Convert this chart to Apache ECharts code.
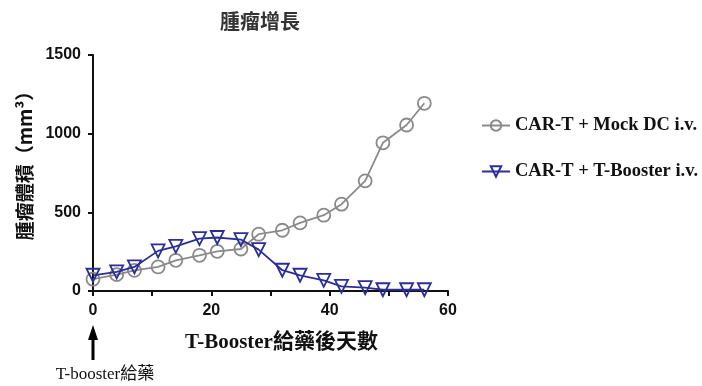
<!DOCTYPE html>
<html>
<head>
<meta charset="utf-8">
<script src="https://cdn.jsdelivr.net/npm/echarts@6/dist/echarts.min.js"></script>
<style>html,body{margin:0;padding:0;background:#fff}#c{width:702px;height:386px}</style>
</head>
<body>
<div id="c"></div>
<script>
var days = [0, 4, 7, 11, 14, 18, 21, 25, 28, 32, 35, 39, 42, 46, 49, 53, 56];
var mockDC = [75, 104, 131, 153, 195, 227, 252, 267, 361, 386, 433, 482, 552, 700, 942, 1055, 1193];
var tBooster = [100, 121, 153, 255, 284, 333, 340, 327, 263, 132, 100, 68, 30, 21, 8, 8, 8];
var yTicks = [0, 500, 1000, 1500];
var xLabels = [0, 20, 40, 60];
var seriesNames = ['CAR-T + Mock DC i.v.', 'CAR-T + T-Booster i.v.'];

function pairs(xs, ys) { return xs.map(function (x, i) { return [x, ys[i]]; }); }

var chart = echarts.init(document.getElementById('c'));
var gray = '#8a8a8a', blue = '#2b2f95';
var option = {
  animation: false,
  title: {
    text: '腫瘤增長', left: 255, top: 6, textAlign: 'center',
    textStyle: { fontFamily: 'Noto Sans CJK TC', fontSize: 20, fontWeight: 'bold', color: '#333' }
  },
  legend: {
    orient: 'vertical', left: 476, top: 111, itemGap: 27, itemWidth: 28, itemHeight: 13,
    textStyle: { fontFamily: 'Liberation Serif', fontWeight: 'bold', fontSize: 18.5, color: '#111' },
    data: seriesNames
  },
  grid: { left: 93, right: 254, top: 55, bottom: 95 },
  xAxis: {
    type: 'value', min: 0, max: 60, interval: 10,
    name: 'T-Booster給藥後天數', nameLocation: 'middle', nameGap: 41,
    nameTextStyle: { fontFamily: 'Liberation Serif, Noto Sans CJK TC', fontWeight: 'bold', fontSize: 21, color: '#111', padding: [0, 0, 0, 22] },
    axisLine: { lineStyle: { color: '#111', width: 2 } },
    axisTick: { length: 5, lineStyle: { color: '#111', width: 2 } },
    splitLine: { show: false },
    axisLabel: {
      fontFamily: 'Liberation Sans', fontWeight: 'bold', fontSize: 16, color: '#111', margin: 12,
      formatter: function (v) { return xLabels.indexOf(v) >= 0 ? String(v) : ''; }
    }
  },
  yAxis: {
    type: 'value', min: yTicks[0], max: yTicks[yTicks.length - 1], interval: 500,
    name: '腫瘤體積（mm³）', nameLocation: 'middle', nameGap: 58, nameRotate: 90,
    nameTextStyle: { fontFamily: 'Noto Sans CJK TC', fontWeight: 'bold', fontSize: 19, color: '#111', padding: [0, 0, 0, 24] },
    axisLine: { show: true, lineStyle: { color: '#111', width: 2 } },
    axisTick: { show: true, length: 5, lineStyle: { color: '#111', width: 2 } },
    splitLine: { show: false },
    axisLabel: { fontFamily: 'Liberation Sans', fontWeight: 'bold', fontSize: 16, color: '#111', margin: 12,
      formatter: function (v) { return String(v); } }
  },
  series: [
    {
      name: seriesNames[0], type: 'line', data: pairs(days, mockDC),
      symbol: 'circle', symbolSize: 13, showAllSymbol: true,
      lineStyle: { color: gray, width: 1.8 },
      itemStyle: { color: 'rgba(255,255,255,0)', borderColor: gray, borderWidth: 1.8 },
      z: 2
    },
    {
      name: seriesNames[1], type: 'line', data: pairs(days, tBooster),
      symbol: 'triangle', symbolRotate: 180, symbolSize: 13, showAllSymbol: true,
      lineStyle: { color: blue, width: 1.8 },
      itemStyle: { color: 'rgba(255,255,255,0)', borderColor: blue, borderWidth: 1.8 },
      z: 3
    }
  ]
};
chart.setOption(option);

var p0 = chart.convertToPixel({ gridIndex: 0 }, [0, 0]);
chart.setOption({
  graphic: [
    { type: 'line', shape: { x1: p0[0], y1: p0[1] + 69, x2: p0[0], y2: p0[1] + 46 }, style: { stroke: '#000', lineWidth: 3 } },
    { type: 'polygon', shape: { points: [[p0[0] - 5, p0[1] + 49], [p0[0] + 5, p0[1] + 49], [p0[0], p0[1] + 34]] }, style: { fill: '#000' } },
    { type: 'text', x: p0[0] + 12, y: p0[1] + 84, style: { text: 'T-booster給藥', fontFamily: 'Liberation Serif, Noto Sans CJK TC', fontSize: 17, fill: '#111', align: 'center', verticalAlign: 'middle' } }
  ]
});
</script>
</body>
</html>
